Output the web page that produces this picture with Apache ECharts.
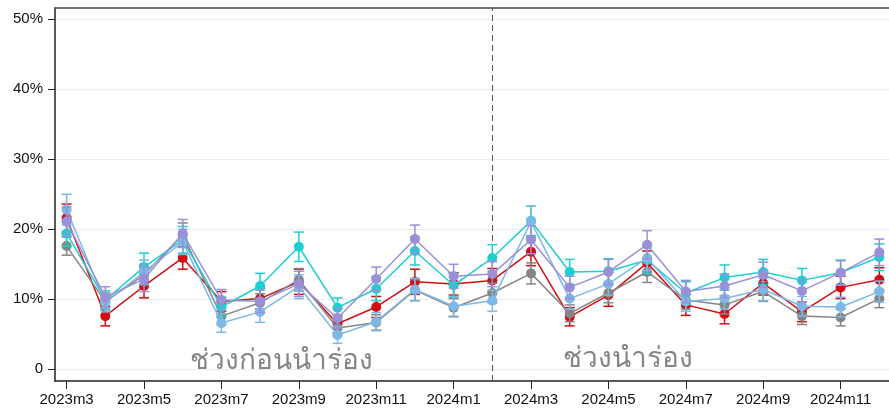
<!DOCTYPE html>
<html><head><meta charset="utf-8">
<script src="https://cdn.jsdelivr.net/npm/echarts@6/dist/echarts.min.js"></script>
<style>html,body{margin:0;padding:0;background:#fff}#c{width:889px;height:412px}</style>
</head><body><div id="c"></div>
<script>
const months = ['2023m3','2023m4','2023m5','2023m6','2023m7','2023m8','2023m9','2023m10','2023m11','2023m12','2024m1','2024m2','2024m3','2024m4','2024m5','2024m6','2024m7','2024m8','2024m9','2024m10','2024m11','2024m12'];
const xTickIdx = [0,2,4,6,8,10,12,14,16,18,20];
const yTicks = [0,10,20,30,40,50];

const red    = [21.6, 7.6,11.9,15.9, 9.7,10.1,12.5, 6.5, 8.9,12.5,12.2,12.7,16.8, 7.5,10.6,15.2, 9.2, 7.9,12.3, 8.2,11.7,12.8];
const gray   = [17.6, 9.7,13.5,19.2, 7.6, 9.5,12.8, 5.9, 6.7,11.3, 8.8,10.9,13.7, 8.0,10.9,13.9, 9.9, 9.2,11.1, 7.6, 7.4,10.1];
const cyan   = [19.4, 9.9,14.6,18.5, 8.9,11.9,17.5, 8.8,11.5,16.9,12.0,15.9,21.2,13.9,14.0,15.6,10.9,13.1,13.9,12.7,13.8,16.0];
const lblue  = [22.8, 9.5,13.9,18.2, 6.6, 8.2,11.8, 4.9, 6.8,11.4, 9.0, 9.8,21.1,10.1,12.2,15.9, 9.7,10.1,11.4, 9.0, 8.9,11.1];
const purple = [21.1,10.3,12.9,19.4, 9.9, 9.7,12.2, 7.3,12.9,18.6,13.3,13.6,18.5,11.7,13.9,17.8,11.1,11.9,13.5,11.2,13.8,16.7];

const redErr    = [2.0,1.4,1.7,1.6,1.4,1.5,1.8,1.3,1.5,1.8,1.6,1.7,2.0,1.3,1.6,1.7,1.5,1.4,1.7,1.4,1.6,1.7];
const grayErr   = [1.3,1.2,1.5,1.7,1.2,1.3,1.6,1.1,1.1,1.5,1.3,1.4,1.5,1.2,1.4,1.5,1.3,1.3,1.4,1.2,1.2,1.3];
const cyanErr   = [1.8,1.3,2.0,1.9,1.4,1.8,2.1,1.4,1.7,2.0,1.7,1.9,2.1,1.8,1.8,1.9,1.6,1.8,1.8,1.7,1.8,1.9];
const lblueErr  = [2.2,1.3,1.7,1.8,1.3,1.5,1.7,1.2,1.3,1.6,1.4,1.5,2.2,1.5,1.6,1.8,1.4,1.5,1.6,1.4,1.4,1.5];
const purpleErr = [2.1,1.5,1.8,2.0,1.5,1.6,1.8,1.4,1.7,2.0,1.7,1.8,2.0,1.6,1.8,2.0,1.6,1.7,1.8,1.6,1.7,1.9];

const pilotStartIdx = 11;
const labelPre = 'ช่วงก่อนนำร่อง';
const labelPilot = 'ช่วงนำร่อง';

const groups = [
  {name:'red', color:'#d40d12', v:red, e:redErr},
  {name:'gray', color:'#858585', v:gray, e:grayErr},
  {name:'cyan', color:'#1ccfd0', v:cyan, e:cyanErr},
  {name:'lblue', color:'#7db8e6', v:lblue, e:lblueErr},
  {name:'purple', color:'#9a90d8', v:purple, e:purpleErr}
];

const series = [];
groups.forEach((g, gi) => {
  series.push({
    type:'custom', name:g.name+'_err', z:2+gi*2,
    data: g.v.map((v,i)=>[i, v - g.e[i], v + g.e[i]]),
    renderItem: (params, api) => {
      const x = api.value(0);
      const lo = api.coord([x, api.value(1)]);
      const hi = api.coord([x, api.value(2)]);
      const w = 5;
      const st = {stroke:g.color, lineWidth:1.5, fill:null};
      return {type:'group', children:[
        {type:'line', shape:{x1:lo[0],y1:lo[1],x2:hi[0],y2:hi[1]}, style:st},
        {type:'line', shape:{x1:lo[0]-w,y1:lo[1],x2:lo[0]+w,y2:lo[1]}, style:st},
        {type:'line', shape:{x1:hi[0]-w,y1:hi[1],x2:hi[0]+w,y2:hi[1]}, style:st}
      ]};
    }
  });
  const s = {
    type:'line', name:g.name, z:3+gi*2,
    data: g.v.map((v,i)=>[i,v]),
    symbol:'circle', symbolSize:10,
    lineStyle:{color:g.color, width:1.5},
    itemStyle:{color:g.color},
    emphasis:{disabled:true}
  };
  if (gi === 0) {
    s.markLine = {
      silent:true, symbol:'none', label:{show:false},
      lineStyle:{color:'#555', type:[6,4], width:1},
      data:[{xAxis:pilotStartIdx}]
    };
  }
  series.push(s);
});

const chart = echarts.init(document.getElementById('c'), null, {renderer:'canvas'});
chart.setOption({
  animation:false,
  grid:{left:55, top:8, right:0, bottom:31},
  xAxis:[{
    type:'value', min:-0.3, max:21.25, position:'bottom',
    axisLine:{show:true, onZero:false, lineStyle:{color:'#222', width:1.5}},
    axisTick:{show:true, customValues:xTickIdx, length:8, lineStyle:{color:'#222'}},
    axisLabel:{customValues:xTickIdx, formatter:v=>months[Math.round(v)], color:'#111', fontSize:15, fontFamily:'Liberation Sans, Arial, sans-serif', margin:11},
    splitLine:{show:false}
  },{
    type:'value', position:'top', min:-0.3, max:21.25,
    axisLine:{show:true, onZero:false, lineStyle:{color:'#444', width:1.5}},
    axisTick:{show:false}, axisLabel:{show:false}, splitLine:{show:false}
  }],
  yAxis:{
    type:'value', min:-1.67, max:51.6, position:'left',
    axisLine:{show:true, onZero:false, lineStyle:{color:'#222', width:1.5}},
    axisTick:{show:true, customValues:yTicks, length:7, lineStyle:{color:'#222'}},
    axisLabel:{customValues:yTicks, formatter:v=> v===0?'0':v+'%', color:'#111', fontSize:15, fontFamily:'Liberation Sans, Arial, sans-serif', margin:12},
    splitLine:{show:true, lineStyle:{color:'#e6eef0', width:1}}
  },
  graphic:[
    {type:'text', left:190, top:347, style:{text:labelPre, fill:'#858585', fontSize:28, fontFamily:'Noto Sans, sans-serif'}},
    {type:'text', left:563, top:345, style:{text:labelPilot, fill:'#858585', fontSize:28, fontFamily:'Noto Sans, sans-serif'}}
  ],
  series: series
});
</script></body></html>
